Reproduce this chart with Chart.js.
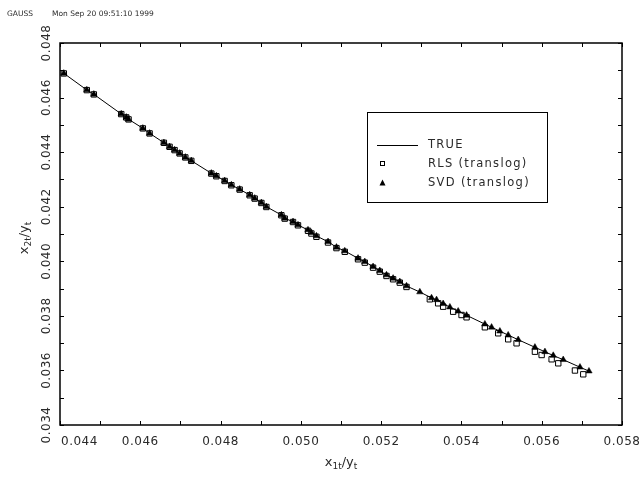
<!DOCTYPE html>
<html>
<head>
<meta charset="utf-8">
<script src="https://cdn.jsdelivr.net/npm/chart.js@4"></script>
<style>
  html, body { margin: 0; padding: 0; background: #fff; }
  #wrap { width: 644px; height: 480px; position: relative; }
</style>
</head>
<body>
<div id="wrap"><canvas id="c" width="644" height="480"></canvas></div>
<script>
// true path (x1t/yt, x2t/yt)
const trueX1 = [0.044095, 0.044668, 0.044843, 0.045526, 0.045651, 0.045708, 0.046064, 0.046232, 0.046588, 0.046730,
  0.046855, 0.046980, 0.047122, 0.047271, 0.047770, 0.047895, 0.048102, 0.048269, 0.048476, 0.048725,
  0.048850, 0.049017, 0.049141, 0.049515, 0.049598, 0.049805, 0.049929, 0.050178, 0.050263, 0.050388,
  0.050677, 0.050887, 0.051094, 0.051425, 0.051592, 0.051799, 0.051966, 0.052133, 0.052298, 0.052465,
  0.052632, 0.052964, 0.053255, 0.053380, 0.053545, 0.053712, 0.053919, 0.054128, 0.054584, 0.054751,
  0.054958, 0.055165, 0.055414, 0.055831, 0.056080, 0.056287, 0.056536, 0.056953, 0.057177];
const trueX2 = [0.046889, 0.046277, 0.046120, 0.045398, 0.045277, 0.045204, 0.044874, 0.044690, 0.044346, 0.044199,
  0.044078, 0.043957, 0.043811, 0.043686, 0.043225, 0.043126, 0.042953, 0.042796, 0.042638, 0.042429,
  0.042308, 0.042147, 0.042000, 0.041697, 0.041576, 0.041451, 0.041330, 0.041147, 0.041048, 0.040927,
  0.040718, 0.040513, 0.040377, 0.040109, 0.039985, 0.039802, 0.039655, 0.039497, 0.039376, 0.039252,
  0.039094, 0.038874, 0.038658, 0.038588, 0.038445, 0.038321, 0.038171, 0.038020, 0.037698, 0.037581,
  0.037438, 0.037295, 0.037126, 0.036848, 0.036683, 0.036547, 0.036393, 0.036118, 0.035975];

// RLS (translog) estimates
const rlsX1 = [0.044095, 0.044668, 0.044843, 0.045526, 0.045651, 0.045708, 0.046064, 0.046232, 0.046588, 0.046730,
  0.046855, 0.046980, 0.047122, 0.047271, 0.047770, 0.047895, 0.048102, 0.048269, 0.048476, 0.048725,
  0.048850, 0.049017, 0.049141, 0.049515, 0.049598, 0.049805, 0.049929, 0.050178, 0.050263, 0.050388,
  0.050677, 0.050887, 0.051094, 0.051425, 0.051592, 0.051799, 0.051966, 0.052133, 0.052298, 0.052465,
  0.052632, 0.053213, 0.053420, 0.053545, 0.053794, 0.054003, 0.054128, 0.054584, 0.054916, 0.055165,
  0.055374, 0.055831, 0.055998, 0.056247, 0.056412, 0.056828, 0.057035];
const rlsX2 = [0.046885, 0.046273, 0.046116, 0.045394, 0.045273, 0.045200, 0.044870, 0.044686, 0.044342, 0.044195,
  0.044074, 0.043953, 0.043806, 0.043681, 0.043215, 0.043116, 0.042943, 0.042786, 0.042628, 0.042419,
  0.042298, 0.042137, 0.041990, 0.041687, 0.041564, 0.041439, 0.041318, 0.041117, 0.041018, 0.040897,
  0.040688, 0.040483, 0.040347, 0.040074, 0.039950, 0.039767, 0.039620, 0.039462, 0.039341, 0.039217,
  0.039059, 0.038607, 0.038460, 0.038336, 0.038152, 0.038031, 0.037947, 0.037581, 0.037361, 0.037141,
  0.036994, 0.036686, 0.036565, 0.036408, 0.036261, 0.035997, 0.035858];

// SVD (translog) estimates
const svdX1 = [0.044095, 0.044668, 0.044843, 0.045526, 0.045651, 0.045708, 0.046064, 0.046232, 0.046588, 0.046730,
  0.046855, 0.046980, 0.047122, 0.047271, 0.047770, 0.047895, 0.048102, 0.048269, 0.048476, 0.048725,
  0.048850, 0.049017, 0.049141, 0.049515, 0.049598, 0.049805, 0.049929, 0.050178, 0.050263, 0.050388,
  0.050677, 0.050887, 0.051094, 0.051425, 0.051592, 0.051799, 0.051966, 0.052133, 0.052298, 0.052465,
  0.052632, 0.052964, 0.053255, 0.053380, 0.053545, 0.053712, 0.053919, 0.054128, 0.054584, 0.054751,
  0.054958, 0.055165, 0.055414, 0.055831, 0.056080, 0.056287, 0.056536, 0.056953, 0.057177];
const svdX2 = [0.046889, 0.046277, 0.046120, 0.045398, 0.045277, 0.045204, 0.044874, 0.044690, 0.044346, 0.044199,
  0.044078, 0.043957, 0.043811, 0.043686, 0.043225, 0.043126, 0.042953, 0.042796, 0.042638, 0.042429,
  0.042308, 0.042147, 0.042000, 0.041697, 0.041576, 0.041451, 0.041330, 0.041147, 0.041048, 0.040927,
  0.040718, 0.040513, 0.040377, 0.040109, 0.039985, 0.039802, 0.039655, 0.039497, 0.039376, 0.039252,
  0.039094, 0.038874, 0.038658, 0.038588, 0.038445, 0.038321, 0.038171, 0.038020, 0.037698, 0.037581,
  0.037438, 0.037295, 0.037126, 0.036848, 0.036683, 0.036547, 0.036393, 0.036118, 0.035975];

const xMin = 0.044, xMax = 0.058;
const yMin = 0.034, yMax = 0.048;
const tickStep = 0.001;   // labels on every second tick

const seriesNames = ['TRUE', 'RLS (translog)', 'SVD (translog)'];
const headerText = ['GAUSS', 'Mon Sep 20 09:51:10 1999'];

function pts(xs, ys) {
  return xs.map((x, i) => ({ x: x, y: ys[i] }));
}

const FONT = '"DejaVu Sans", sans-serif';
const INK = '#2a2a2a';

// draws "x<sub>/y<sub>" style text, parts = [[text, isSub], ...]
function drawSubText(ctx, parts, x, y) {
  let widths = parts.map(p => {
    ctx.font = (p[1] ? '9px ' : '13px ') + FONT;
    return ctx.measureText(p[0]).width;
  });
  let total = widths.reduce((a, b) => a + b, 0);
  let cx = x - total / 2;
  ctx.textAlign = 'left';
  ctx.textBaseline = 'alphabetic';
  parts.forEach((p, i) => {
    ctx.font = (p[1] ? '9px ' : '13px ') + FONT;
    ctx.fillText(p[0], cx, y + (p[1] ? 3 : 0));
    cx += widths[i];
  });
}

const frameAndLegend = {
  id: 'frameAndLegend',
  afterDraw(chart) {
    const ctx = chart.ctx;
    const a = chart.chartArea;
    const xs = chart.scales.x, ys = chart.scales.y;
    ctx.save();

    // header
    ctx.fillStyle = INK;
    ctx.font = '7.5px ' + FONT;
    ctx.textAlign = 'left';
    ctx.textBaseline = 'middle';
    ctx.fillText(headerText[0], 7, 14);
    ctx.fillText(headerText[1], 52, 14);

    // frame
    ctx.strokeStyle = '#000';
    ctx.lineWidth = 1.5;
    ctx.strokeRect(a.left, a.top, a.right - a.left, a.bottom - a.top);

    // inward ticks on all four sides
    ctx.lineWidth = 1;
    const tl = 4;
    ctx.beginPath();
    xs.ticks.forEach(t => {
      const px = Math.round(xs.getPixelForValue(t.value)) + 0.5;
      ctx.moveTo(px, a.bottom); ctx.lineTo(px, a.bottom - tl);
      ctx.moveTo(px, a.top); ctx.lineTo(px, a.top + tl);
    });
    ys.ticks.forEach(t => {
      const py = Math.round(ys.getPixelForValue(t.value)) + 0.5;
      ctx.moveTo(a.left, py); ctx.lineTo(a.left + tl, py);
      ctx.moveTo(a.right, py); ctx.lineTo(a.right - tl, py);
    });
    ctx.stroke();

    // tick labels
    ctx.fillStyle = INK;
    ctx.font = '12px ' + FONT;
    ctx.letterSpacing = '0.5px';
    ctx.textBaseline = 'middle';
    xs.ticks.forEach((t, i) => {
      if (Math.round(t.value * 1000) % 2 !== 0) return;
      const px = xs.getPixelForValue(t.value);
      ctx.textAlign = i === 0 ? 'left' : 'center';
      ctx.fillText(t.value.toFixed(3), i === 0 ? px + 1 : px, 442);
    });
    ys.ticks.forEach(t => {
      if (Math.round(t.value * 1000) % 2 !== 0) return;
      const py = ys.getPixelForValue(t.value);
      ctx.save();
      ctx.translate(47, py);
      ctx.rotate(-Math.PI / 2);
      ctx.textAlign = 'center';
      ctx.fillText(t.value.toFixed(3), 0, 0);
      ctx.restore();
    });
    ctx.letterSpacing = '0px';

    // axis titles
    drawSubText(ctx, [['x', false], ['1t', true], ['/', false], ['y', false], ['t', true]], (a.left + a.right) / 2, 466);
    ctx.save();
    ctx.translate(28, 238);
    ctx.rotate(-Math.PI / 2);
    drawSubText(ctx, [['x', false], ['2t', true], ['/', false], ['y', false], ['t', true]], 0, 0);
    ctx.restore();

    // legend box
    const lb = { l: 367, t: 112, r: 547, b: 202 };
    ctx.fillStyle = '#fff';
    ctx.fillRect(lb.l, lb.t, lb.r - lb.l, lb.b - lb.t);
    ctx.strokeStyle = '#000';
    ctx.lineWidth = 1;
    ctx.strokeRect(lb.l + 0.5, lb.t + 0.5, lb.r - lb.l, lb.b - lb.t);
    const rows = [145, 164, 183];
    ctx.beginPath();
    ctx.moveTo(377, rows[0] + 0.5); ctx.lineTo(418, rows[0] + 0.5);
    ctx.stroke();
    ctx.strokeRect(380.5, rows[1] - 2.5, 4, 4);
    ctx.fillStyle = '#000';
    ctx.beginPath();
    ctx.moveTo(382.5, rows[2] - 3.5);
    ctx.lineTo(385.5, rows[2] + 2.5);
    ctx.lineTo(379.5, rows[2] + 2.5);
    ctx.closePath();
    ctx.fill();
    ctx.fillStyle = INK;
    ctx.font = '11.5px ' + FONT;
    ctx.letterSpacing = '1.3px';
    ctx.textAlign = 'left';
    ctx.textBaseline = 'middle';
    seriesNames.forEach((s, i) => ctx.fillText(s, 428, rows[i]));
    ctx.letterSpacing = '0px';

    ctx.restore();
  }
};

new Chart(document.getElementById('c'), {
  type: 'scatter',
  data: {
    datasets: [
      {
        label: seriesNames[0],
        type: 'line',
        data: pts(trueX1, trueX2),
        borderColor: '#000',
        borderWidth: 1,
        pointRadius: 0,
        tension: 0,
        fill: false,
        order: 3
      },
      {
        label: seriesNames[1],
        data: pts(rlsX1, rlsX2),
        pointStyle: 'rect',
        pointRadius: 3.8,
        borderColor: '#000',
        borderWidth: 1,
        backgroundColor: 'rgba(255,255,255,0)',
        order: 2
      },
      {
        label: seriesNames[2],
        data: pts(svdX1, svdX2),
        pointStyle: 'triangle',
        pointRadius: 3.7,
        borderColor: '#000',
        borderWidth: 0.5,
        backgroundColor: '#000',
        order: 1
      }
    ]
  },
  options: {
    responsive: false,
    animation: false,
    devicePixelRatio: 1,
    layout: { padding: { left: 60, top: 43, right: 22, bottom: 55 } },
    plugins: { legend: { display: false }, tooltip: { enabled: false } },
    scales: {
      x: { type: 'linear', display: false, min: xMin, max: xMax, ticks: { stepSize: tickStep } },
      y: { type: 'linear', display: false, min: yMin, max: yMax, ticks: { stepSize: tickStep } }
    }
  },
  plugins: [frameAndLegend]
});
</script>
</body>
</html>
